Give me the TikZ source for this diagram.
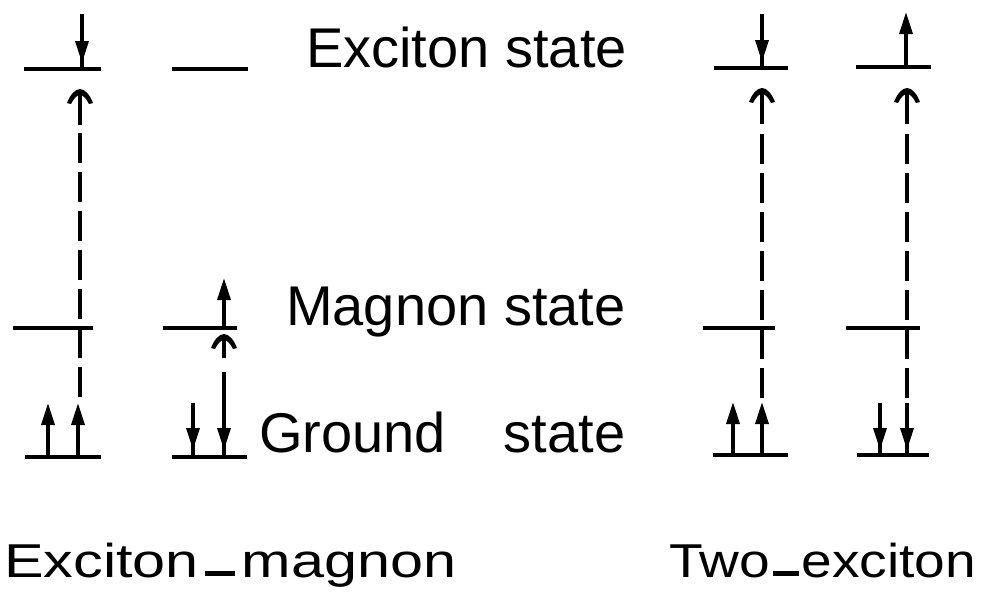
\documentclass[tikz,border=0pt]{standalone}
\usepackage{fontspec}
\setmainfont{Liberation Sans}
\usetikzlibrary{arrows.meta}
\begin{document}
\begin{tikzpicture}[x=1pt,y=-1pt,
  level/.style={line width=3.2pt},
  shaft/.style={line width=3.4pt},
  spin/.style={line width=3.4pt,-{Triangle[length=22pt,width=13pt]}},
  stub/.style={line width=3.2pt},
  trans/.style={line width=3.2pt,dash pattern=on 30pt off 9pt},
  chevron/.pic={\fill (-13,14) .. controls (-10,6) and (-5,0) .. (0,0)
       .. controls (5,0) and (10,6) .. (13,14) -- (9,15)
       .. controls (6,9) and (3,6) .. (0,6)
       .. controls (-3,6) and (-6,9) .. (-9,15) -- cycle;},
  lbl/.style={inner sep=0pt,anchor=base west,font=\fontsize{56}{60}\selectfont},
  caption/.style={inner sep=0pt,anchor=base west,font=\fontsize{47.5}{50}\selectfont}]
\useasboundingbox (0,0) rectangle (984,597);

% ---------- column 1 (exciton-magnon, exciton side) ----------
\coordinate (E1a) at (24,69);  \coordinate (E1b) at (101,69);
\coordinate (M1a) at (13,328); \coordinate (M1b) at (93,328);
\coordinate (G1a) at (25,457); \coordinate (G1b) at (101,457);
\draw[level] (E1a) -- (E1b);
\draw[level] (M1a) -- (M1b);
\draw[level] (G1a) -- (G1b);
\coordinate (s1top) at (82,14); \coordinate (s1tip) at (82,63); \coordinate (s1end) at (82,69);
\draw[shaft] (s1top) -- (s1end);
\draw[spin] (s1top) -- (s1tip);
\coordinate (g1a) at (48,457); \coordinate (g1at) at (48,403);
\coordinate (g1b) at (78,457); \coordinate (g1bt) at (78,403);
\draw[spin] (g1a) -- (g1at);
\draw[spin] (g1b) -- (g1bt);
\coordinate (t1tip) at (80,89); \coordinate (t1h) at (80,95); \coordinate (t1s) at (80,125);
\coordinate (t1d) at (80,133); \coordinate (t1end) at (80,401);
\pic at (t1tip) {chevron};
\draw[stub] (t1h) -- (t1s);
\draw[trans] (t1d) -- (t1end);

% ---------- column 2 (exciton-magnon, magnon side) ----------
\coordinate (E2a) at (172,69);  \coordinate (E2b) at (248,69);
\coordinate (M2a) at (163,328); \coordinate (M2b) at (237,328);
\coordinate (G2a) at (172,457); \coordinate (G2b) at (247,457);
\draw[level] (E2a) -- (E2b);
\draw[level] (M2a) -- (M2b);
\draw[level] (G2a) -- (G2b);
\coordinate (m2b) at (224,328); \coordinate (m2t) at (224,278);
\draw[spin] (m2b) -- (m2t);
\coordinate (g2at) at (193,403); \coordinate (g2ab) at (193,450); \coordinate (g2ae) at (193,457);
\coordinate (g2bt) at (224,372); \coordinate (g2bb) at (224,450); \coordinate (g2be) at (224,457);
\draw[shaft] (g2at) -- (g2ae);
\draw[spin] (g2at) -- (g2ab);
\draw[shaft] (g2bt) -- (g2be);
\draw[spin] (g2bt) -- (g2bb);
\coordinate (t2tip) at (224,334); \coordinate (t2h) at (224,340); \coordinate (t2s) at (224,358);
\pic at (t2tip) {chevron};
\draw[stub] (t2h) -- (t2s);

% ---------- column 3 (two-exciton, first) ----------
\coordinate (E3a) at (714,68);  \coordinate (E3b) at (788,68);
\coordinate (M3a) at (703,328); \coordinate (M3b) at (775,328);
\coordinate (G3a) at (713,455); \coordinate (G3b) at (788,455);
\draw[level] (E3a) -- (E3b);
\draw[level] (M3a) -- (M3b);
\draw[level] (G3a) -- (G3b);
\coordinate (s3top) at (762,14); \coordinate (s3tip) at (762,62); \coordinate (s3end) at (762,68);
\draw[shaft] (s3top) -- (s3end);
\draw[spin] (s3top) -- (s3tip);
\coordinate (g3a) at (733,455); \coordinate (g3at) at (733,402);
\coordinate (g3b) at (762,455); \coordinate (g3bt) at (762,402);
\draw[spin] (g3a) -- (g3at);
\draw[spin] (g3b) -- (g3bt);
\coordinate (t3tip) at (762,88); \coordinate (t3h) at (762,94); \coordinate (t3s) at (762,124);
\coordinate (t3d) at (762,134); \coordinate (t3end) at (762,400);
\pic at (t3tip) {chevron};
\draw[stub] (t3h) -- (t3s);
\draw[trans] (t3d) -- (t3end);

% ---------- column 4 (two-exciton, second) ----------
\coordinate (E4a) at (856,67);  \coordinate (E4b) at (931,67);
\coordinate (M4a) at (846,328); \coordinate (M4b) at (920,328);
\coordinate (G4a) at (857,455); \coordinate (G4b) at (929,455);
\draw[level] (E4a) -- (E4b);
\draw[level] (M4a) -- (M4b);
\draw[level] (G4a) -- (G4b);
\coordinate (s4b) at (906,67); \coordinate (s4t) at (906,12);
\draw[spin] (s4b) -- (s4t);
\coordinate (g4at) at (880,403); \coordinate (g4ab) at (880,450); \coordinate (g4ae) at (880,455);
\coordinate (g4bt) at (907,403); \coordinate (g4bb) at (907,450); \coordinate (g4be) at (907,455);
\draw[shaft] (g4at) -- (g4ae);
\draw[spin] (g4at) -- (g4ab);
\draw[shaft] (g4bt) -- (g4be);
\draw[spin] (g4bt) -- (g4bb);
\coordinate (t4tip) at (907,88); \coordinate (t4h) at (907,94); \coordinate (t4s) at (907,124);
\coordinate (t4d) at (907,134); \coordinate (t4end) at (907,400);
\pic at (t4tip) {chevron};
\draw[stub] (t4h) -- (t4s);
\draw[trans] (t4d) -- (t4end);

% ---------- labels ----------
\node[lbl] (lex) at (306,67) {Exciton state};
\node[lbl] (lmag) at (286,325) {Magnon state};
\node[lbl] (lgr) at (259,452) {Ground\hspace{58pt}state};
\node[caption] (cem) at (4,577) {\scalebox{1.25}[1]{Exciton\hspace{0.1em}\rule[0.02em]{0.5em}{0.1em}\hspace{0.12em}magnon}};
\node[caption] (ctx) at (669,577) {\scalebox{1.16}[1]{Two\hspace{0.05em}\rule[0.02em]{0.47em}{0.1em}\hspace{0.05em}exciton}};
\end{tikzpicture}
\end{document}
